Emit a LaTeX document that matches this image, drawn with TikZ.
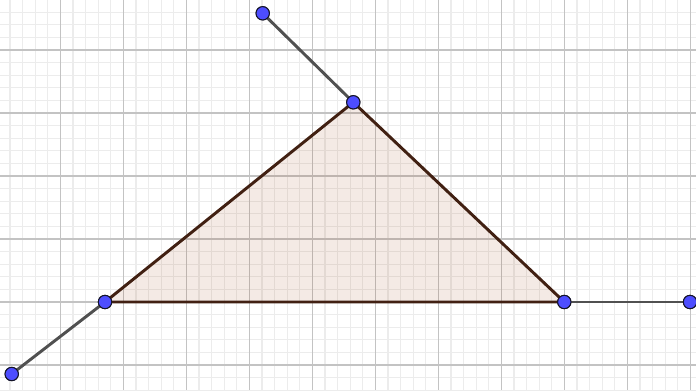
\documentclass[tikz,border=0pt]{standalone}
\definecolor{minorgrid}{RGB}{236,236,236}
\definecolor{majorgrid}{RGB}{195,195,195}
\definecolor{segcol}{RGB}{80,80,80}
\definecolor{edgecol}{RGB}{65,32,18}
\definecolor{fillcol}{RGB}{153,51,0}
\definecolor{ptfill}{RGB}{77,77,255}
\definecolor{ptdraw}{RGB}{20,20,40}
\begin{document}
\begin{tikzpicture}[x=0.75pt,y=-0.75pt,
  minor/.style={draw=minorgrid,line width=0.9pt},
  major/.style={draw=majorgrid,line width=1.1pt},
  seg/.style={draw=segcol,line width=2.2pt},
  edge/.style={draw=edgecol,line width=2.2pt,line join=round},
  tri/.style={fill=fillcol,fill opacity=0.1},
  pt/.style={circle,fill=ptfill,draw=ptdraw,line width=0.75pt,minimum size=10pt,inner sep=0pt}]
\useasboundingbox (0,0) rectangle (696,390);
\fill[white] (0,0) rectangle (696,390);
\begin{scope}
\clip (0,0) rectangle (696,390);
\foreach \k in {-5,...,52} {\draw[minor] ({60.3+12.6*\k},0) -- ++(0,390);}
\foreach \k in {-4,...,27} {\draw[minor] (0,{50+12.6*\k}) -- ++(696,0);}
\foreach \k in {-1,...,10} {\draw[major] ({60.3+63*\k},0) -- ++(0,390);}
\foreach \k in {-1,...,5} {\draw[major] (0,{50+63*\k}) -- ++(696,0);}
\end{scope}
\coordinate (a) at (105,302);
\coordinate (b) at (353.3,102.3);
\coordinate (c) at (564.3,302);
\fill[tri] (a) -- (b) -- (c) -- cycle;
\node[pt] (P1) at (11.7,374) {};
\node[pt] (A) at (a) {};
\node[pt] (B) at (b) {};
\node[pt] (C) at (c) {};
\node[pt] (P2) at (262.7,13.3) {};
\node[pt] (P3) at (690,302) {};
\draw[seg] (P1.center) -- (A.center);
\draw[seg] (B.center) -- (P2.center);
\draw[seg] (C.center) -- (P3.center);
\draw[edge] (a) -- (b) -- (c) -- cycle;
\foreach \n in {P1,A,B,C,P2,P3} {\node[pt] at (\n) {};}
\end{tikzpicture}
\end{document}
